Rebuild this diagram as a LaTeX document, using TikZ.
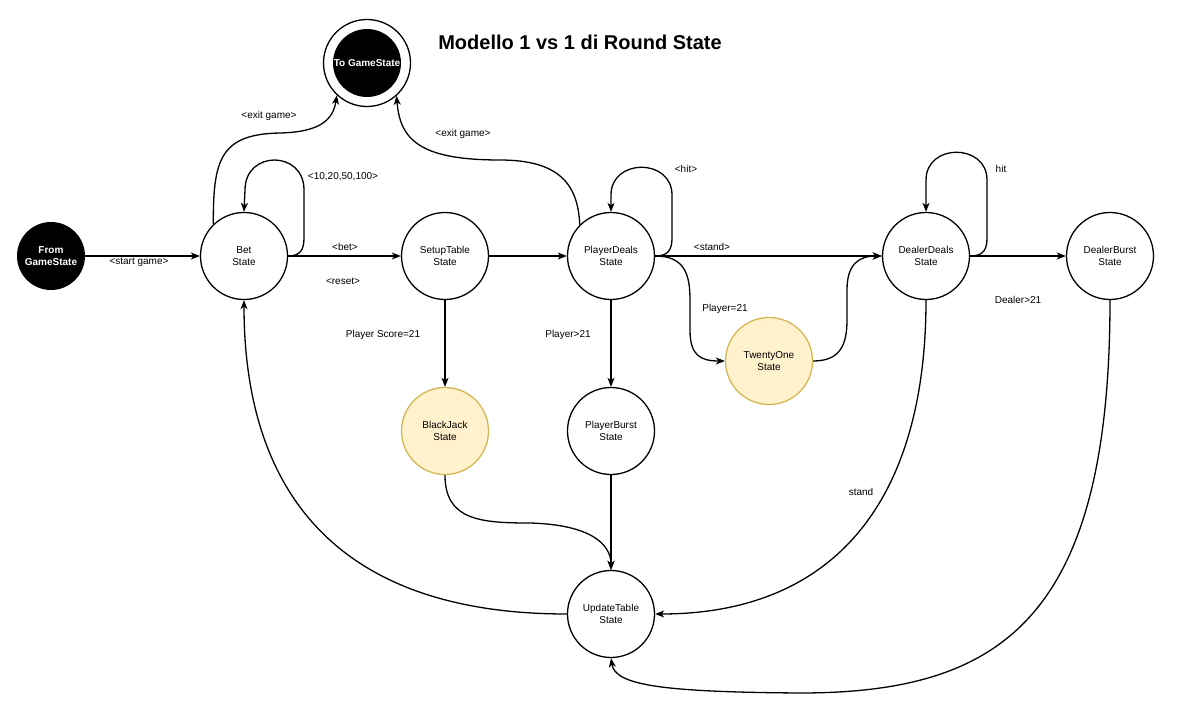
\documentclass[tikz,border=0pt]{standalone}
\usepackage{fontspec}
\setmainfont{Liberation Sans}
\usetikzlibrary{arrows.meta}
\definecolor{yfill}{HTML}{FFF2CC}
\definecolor{ydraw}{HTML}{D6B656}
\begin{document}
\begin{tikzpicture}[x=1pt,y=-1pt,
  st/.style={circle, draw=black, line width=1.3pt, fill=white, minimum size=87pt, inner sep=0pt, align=center, font=\fontsize{10}{12}\selectfont},
  yst/.style={st, draw=ydraw, fill=yfill},
  blk/.style={circle, fill=black, draw=none, minimum size=68pt, inner sep=0pt, align=center, text=white, font=\fontsize{10}{12}\selectfont\bfseries},
  arr/.style={line width=1.3pt, -{Stealth[length=9pt,width=7pt,inset=2.5pt]}},
  ln/.style={line width=1.3pt},
  lab/.style={font=\fontsize{10}{12}\selectfont, inner sep=0pt}
]
\useasboundingbox (0,0) rectangle (1191,719);
\fill[white] (0,0) rectangle (1191,719);

\node[font=\fontsize{20}{24}\selectfont\bfseries] (title) at (580,42) {Modello 1 vs 1 di Round State};

\node[blk] (from) at (51,256) {From\\GameState};
\node[st] (tog) at (367,63) {};
\node[blk] (togin) at (367,63) {To GameState};
\node[st] (bet) at (244,256) {Bet\\State};
\node[st] (setup) at (445,256) {SetupTable\\State};
\node[st] (pd) at (611,256) {PlayerDeals\\State};
\node[yst] (to) at (769,361) {TwentyOne\\State};
\node[yst] (bj) at (445,431) {BlackJack\\State};
\node[st] (pb) at (611,431) {PlayerBurst\\State};
\node[st] (ut) at (611,614) {UpdateTable\\State};
\node[st] (dd) at (926,256) {DealerDeals\\State};
\node[st] (db) at (1110,256) {DealerBurst\\State};

% straight edges
\draw[arr] (from) -- (bet);
\draw[arr] (bet) -- (setup);
\draw[arr] (setup) -- (pd);
\draw[arr] (pd) -- (dd);
\draw[arr] (dd) -- (db);
\draw[arr] (setup) -- (bj);
\draw[arr] (pd) -- (pb);
\draw[arr] (pb) -- (ut);

% self loops
\draw[arr] (bet.east) .. controls (300,256) and (304,250) .. (304,238) -- (304,190) .. controls (304,150) and (245,150) .. (245,190) -- (bet.north);
\draw[arr] (pd.east) .. controls (668,256) and (672,250) .. (672,238) -- (672,195) .. controls (672,158) and (611,158) .. (611,195) -- (pd.north);
\draw[arr] (dd.east) .. controls (983,256) and (987,250) .. (987,238) -- (987,180) .. controls (987,143) and (926,143) .. (926,180) -- (dd.north);

% exits
\draw[arr] (bet.134) .. controls (213,160) and (220,134) .. (280,133) .. controls (320,132) and (333,120) .. (tog.227);
\draw[arr] (pd.135) .. controls (578,185) and (560,160) .. (500,160) .. controls (420,160) and (400,140) .. (tog.312);

% twenty one
\draw[arr] (pd.east) .. controls (685,256) and (690,275) .. (690,300) -- (690,330) .. controls (690,355) and (700,361) .. (to.west);
\draw[arr] (to.east) .. controls (840,361) and (847,345) .. (847,320) -- (847,290) .. controls (847,265) and (858,256) .. (dd.west);

% to update table
\draw[arr] (bj.south) .. controls (445,520) and (480,523) .. (530,523) .. controls (600,525) and (611,550) .. (ut.north);
\draw[arr] (ut.west) .. controls (300,614) and (244,450) .. (bet.south);
\draw[arr] (dd.south) .. controls (926,500) and (835,614) .. (ut.east);
\draw[arr] (db.south) .. controls (1110,620) and (1000,693) .. (800,693) .. controls (660,692) and (615,685) .. (ut.south);

% labels
\node[lab] (l1) at (139,262) {<start game>};
\node[lab] (l2) at (269,116) {<exit game>};
\node[lab] (l3) at (343,177) {<10,20,50,100>};
\node[lab] (l4) at (345,247) {<bet>};
\node[lab] (l5) at (343,281) {<reset>};
\node[lab] (l6) at (463,134) {<exit game>};
\node[lab] (l7) at (686,169) {<hit>};
\node[lab] (l8) at (712,247) {<stand>};
\node[lab] (l9) at (725,309) {Player=21};
\node[lab] (l10) at (568,335) {Player>21};
\node[lab] (l11) at (383,335) {Player Score=21};
\node[lab] (l12) at (1001,169) {hit};
\node[lab] (l13) at (1018,300) {Dealer>21};
\node[lab] (l14) at (861,492) {stand};
\end{tikzpicture}
\end{document}
